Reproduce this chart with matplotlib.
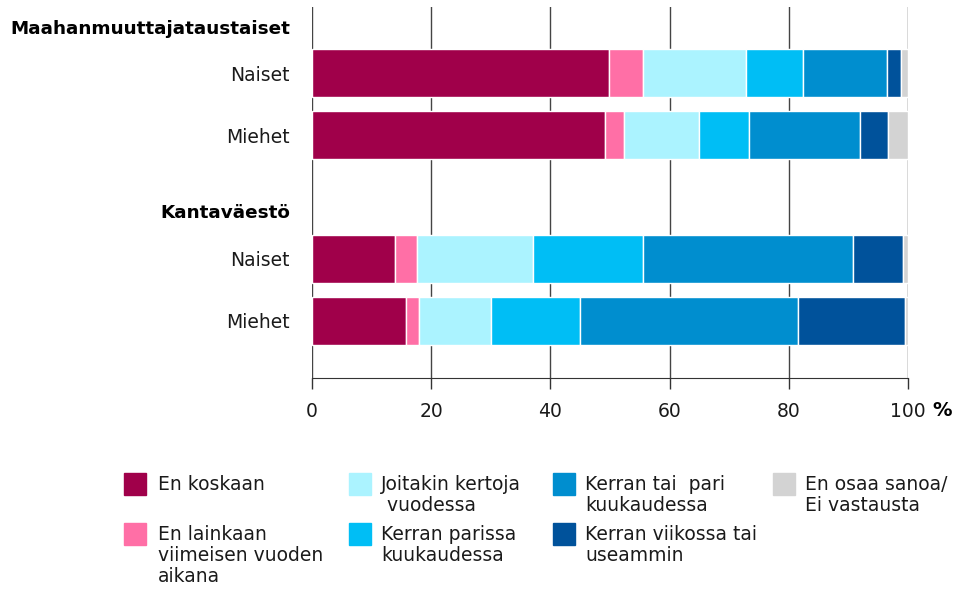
import matplotlib.pyplot as plt
from matplotlib.patches import Rectangle
from matplotlib.transforms import blended_transform_factory

# Answer categories (stack order, left to right)
categories = [
    "En koskaan",
    "En lainkaan\nviimeisen vuoden\naikana",
    "Joitakin kertoja\n vuodessa",
    "Kerran parissa\nkuukaudessa",
    "Kerran tai  pari\nkuukaudessa",
    "Kerran viikossa tai\nuseammin",
    "En osaa sanoa/\nEi vastausta",
]
colors = ["#A0004A", "#FF6FA6", "#ABF3FF", "#00BEF5", "#008ECF", "#00529B", "#D3D3D3"]

# Shares (%) per group
imm_women = [49.9, 5.6, 17.4, 9.4, 14.2, 2.4, 1.1]
imm_men = [49.2, 3.2, 12.5, 8.5, 18.6, 4.7, 3.3]
nat_women = [14.0, 3.6, 19.5, 18.4, 35.2, 8.4, 0.9]
nat_men = [15.7, 2.2, 12.1, 15.0, 36.5, 18.0, 0.5]

rows = [imm_women, imm_men, nat_women, nat_men]
row_labels = ["Naiset", "Miehet", "Naiset", "Miehet"]
row_pos = [0, 1, 3, 4]
group_labels = ["Maahanmuuttajataustaiset", "Kantaväestö"]
group_pos = [-0.71, 2.26]
xticks = [0, 20, 40, 60, 80, 100]

W, H = 967, 589
fig = plt.figure(figsize=(W / 100, H / 100), dpi=100)
ax = fig.add_axes([312 / W, 1 - 378 / H, 596 / W, 371 / H])
txt = "#1a1a1a"
fs = 13.5

for pos, vals in zip(row_pos, rows):
    left = 0
    for v, c in zip(vals, colors):
        ax.barh(pos, v, left=left, height=0.76, color=c, edgecolor="white",
                linewidth=1, zorder=3)
        left += v

ax.set_xlim(0, 100)
ax.set_ylim(4.92, -1.065)
ax.set_xticks(xticks)
ax.set_xticklabels([str(t) for t in xticks], fontsize=fs, color=txt)
ax.set_yticks(row_pos)
ax.set_yticklabels(row_labels, fontsize=fs, color=txt)
ax.tick_params(axis="y", length=0, pad=16)
ax.tick_params(axis="x", direction="out", length=8, width=1, color="#333333", pad=9)
ax.grid(axis="x", color="#444444", linewidth=1, zorder=0)
for s in ["top", "right", "left"]:
    ax.spines[s].set_visible(False)
ax.spines["bottom"].set_color("#333333")

tr = blended_transform_factory(ax.transAxes, ax.transData)
for lab, y in zip(group_labels, group_pos):
    ax.text(-0.037, y, lab, transform=tr, ha="right", va="center",
            fontsize=13.2, fontweight="bold", color="black")

fig.text(932 / W, 1 - 410 / H, "%", fontsize=14, fontweight="bold", ha="left", va="center")

# Legend, filled column by column
sq_x = [124, 349, 553, 773]
tx_x = [158, 381, 585, 805]
row_top = [473, 523]
for i, (lab, c) in enumerate(zip(categories, colors)):
    col, r = i // 2, i % 2
    fig.add_artist(Rectangle((sq_x[col] / W, 1 - (row_top[r] + 22) / H), 22 / W, 22 / H,
                             transform=fig.transFigure, color=c))
    fig.text(tx_x[col] / W, 1 - (row_top[r] + 2) / H, lab, fontsize=fs, color=txt,
             ha="left", va="top", linespacing=1.13)

fig.savefig("out.png", dpi=100)
